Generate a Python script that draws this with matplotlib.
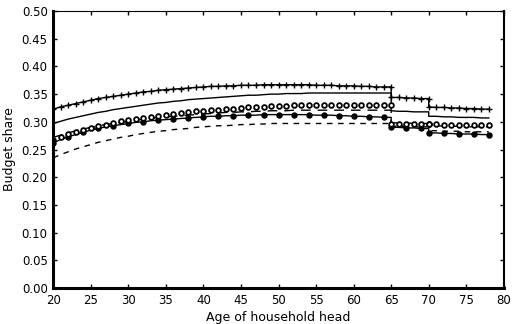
import numpy as np
import matplotlib
matplotlib.use("Agg")
import matplotlib.pyplot as plt

# ages: yearly grid, with 65 and 70 repeated so the drops are vertical
ages = (list(range(20, 66)) + list(range(65, 71)) + list(range(70, 79)))

plus_line = [0.323, 0.327, 0.330, 0.333, 0.336, 0.339, 0.342, 0.344, 0.346, 0.348,
             0.350, 0.352, 0.354, 0.355, 0.357, 0.358, 0.359, 0.360, 0.361, 0.362,
             0.363, 0.364, 0.364, 0.365, 0.365, 0.366, 0.366, 0.366, 0.367, 0.367,
             0.367, 0.367, 0.367, 0.367, 0.367, 0.366, 0.366, 0.366, 0.365, 0.365,
             0.365, 0.364, 0.364, 0.363, 0.363, 0.363,
             0.344, 0.344, 0.343, 0.343, 0.342, 0.342,
             0.327, 0.326, 0.326, 0.325, 0.325, 0.324, 0.324, 0.323, 0.323]

solid_line = [0.297, 0.301, 0.305, 0.308, 0.311, 0.314, 0.317, 0.319, 0.322, 0.324,
              0.326, 0.328, 0.330, 0.332, 0.334, 0.335, 0.337, 0.338, 0.340, 0.341,
              0.342, 0.343, 0.344, 0.345, 0.346, 0.347, 0.348, 0.348, 0.349, 0.350,
              0.350, 0.351, 0.351, 0.351, 0.352, 0.352, 0.352, 0.352, 0.352, 0.352,
              0.352, 0.352, 0.352, 0.352, 0.352, 0.352,
              0.320, 0.319, 0.319, 0.318, 0.318, 0.318,
              0.310, 0.310, 0.309, 0.309, 0.308, 0.308, 0.308, 0.307, 0.307]

open_circles = [0.268, 0.273, 0.278, 0.282, 0.286, 0.289, 0.292, 0.295, 0.298, 0.301,
                0.303, 0.305, 0.307, 0.309, 0.311, 0.313, 0.314, 0.316, 0.317, 0.319,
                0.320, 0.321, 0.322, 0.323, 0.324, 0.325, 0.326, 0.327, 0.327, 0.328,
                0.329, 0.329, 0.330, 0.330, 0.330, 0.331, 0.331, 0.331, 0.331, 0.331,
                0.331, 0.331, 0.331, 0.331, 0.331, 0.331,
                0.296, 0.296, 0.296, 0.296, 0.296, 0.296,
                0.296, 0.296, 0.295, 0.295, 0.295, 0.295, 0.294, 0.294, 0.294]

filled_dots = [0.262, 0.268, 0.273, 0.277, 0.281, 0.285, 0.288, 0.291, 0.293, 0.295,
               0.297, 0.299, 0.300, 0.302, 0.303, 0.304, 0.305, 0.306, 0.307, 0.308,
               0.309, 0.310, 0.310, 0.311, 0.311, 0.312, 0.312, 0.312, 0.313, 0.313,
               0.313, 0.313, 0.313, 0.313, 0.313, 0.312, 0.312, 0.312, 0.311, 0.311,
               0.310, 0.310, 0.309, 0.309, 0.308, 0.308,
               0.290, 0.290, 0.289, 0.289, 0.288, 0.288,
               0.280, 0.280, 0.279, 0.279, 0.278, 0.278, 0.278, 0.277, 0.277]

long_dash = [0.272, 0.276, 0.280, 0.284, 0.287, 0.290, 0.293, 0.295, 0.297, 0.299,
             0.301, 0.303, 0.305, 0.306, 0.308, 0.309, 0.310, 0.311, 0.312, 0.313,
             0.314, 0.315, 0.316, 0.317, 0.317, 0.318, 0.318, 0.319, 0.319, 0.320,
             0.320, 0.320, 0.321, 0.321, 0.321, 0.321, 0.321, 0.321, 0.321, 0.321,
             0.321, 0.321, 0.321, 0.321, 0.321, 0.321,
             0.298, 0.298, 0.298, 0.297, 0.297, 0.297,
             0.293, 0.293, 0.292, 0.292, 0.292, 0.291, 0.291, 0.291, 0.291]

short_dash = [0.235, 0.241, 0.246, 0.251, 0.255, 0.259, 0.263, 0.266, 0.269, 0.272,
              0.274, 0.277, 0.279, 0.281, 0.283, 0.284, 0.286, 0.287, 0.288, 0.290,
              0.291, 0.292, 0.293, 0.293, 0.294, 0.295, 0.295, 0.296, 0.296, 0.297,
              0.297, 0.297, 0.297, 0.297, 0.297, 0.297, 0.297, 0.297, 0.297, 0.297,
              0.297, 0.297, 0.297, 0.297, 0.297, 0.297,
              0.292, 0.292, 0.292, 0.291, 0.291, 0.291,
              0.284, 0.284, 0.283, 0.283, 0.283, 0.282, 0.282, 0.282, 0.282]

xticks = [20, 25, 30, 35, 40, 45, 50, 55, 60, 65, 70, 75, 80]
yticks = [0.00, 0.05, 0.10, 0.15, 0.20, 0.25, 0.30, 0.35, 0.40, 0.45, 0.50]

plt.rcParams['font.family'] = ['DejaVu Sans']

fig = plt.figure(figsize=(5.12, 3.24), dpi=100)
ax = fig.add_axes([0.104, 0.111, 0.880, 0.855])

ax.plot(ages, plus_line, color='black', lw=1.0, marker='+', ms=4.5, mew=1.0)
ax.plot(ages, solid_line, color='black', lw=1.0)
ax.plot(ages, long_dash, color='black', lw=1.0, ls=(0, (7, 5)))
ax.plot(ages, short_dash, color='black', lw=1.0, ls=(0, (4, 4)))
ax.plot(ages, filled_dots, color='black', lw=1.0, marker='o', ms=3.6,
        markevery=2)
ax.plot(ages, open_circles, color='black', lw=0, marker='o', ms=3.4,
        mfc='white', mew=1.3)

ax.set_xlim(20, 80)
ax.set_ylim(0, 0.5)
ax.set_xticks(xticks)
ax.set_yticks(yticks)
ax.set_yticklabels([f"{v:.2f}" for v in yticks])
ax.tick_params(direction='in', top=True, right=True, labelsize=8.5,
               length=3, width=1, pad=4)
ax.set_xlabel("Age of household head", fontsize=9, labelpad=3)
ax.set_ylabel("Budget share", fontsize=9, labelpad=4)

ax.spines['left'].set_linewidth(2.2)
ax.spines['bottom'].set_linewidth(2.2)
ax.spines['top'].set_linewidth(0.8)
ax.spines['right'].set_linewidth(1.5)

fig.savefig("out.png", dpi=100)
